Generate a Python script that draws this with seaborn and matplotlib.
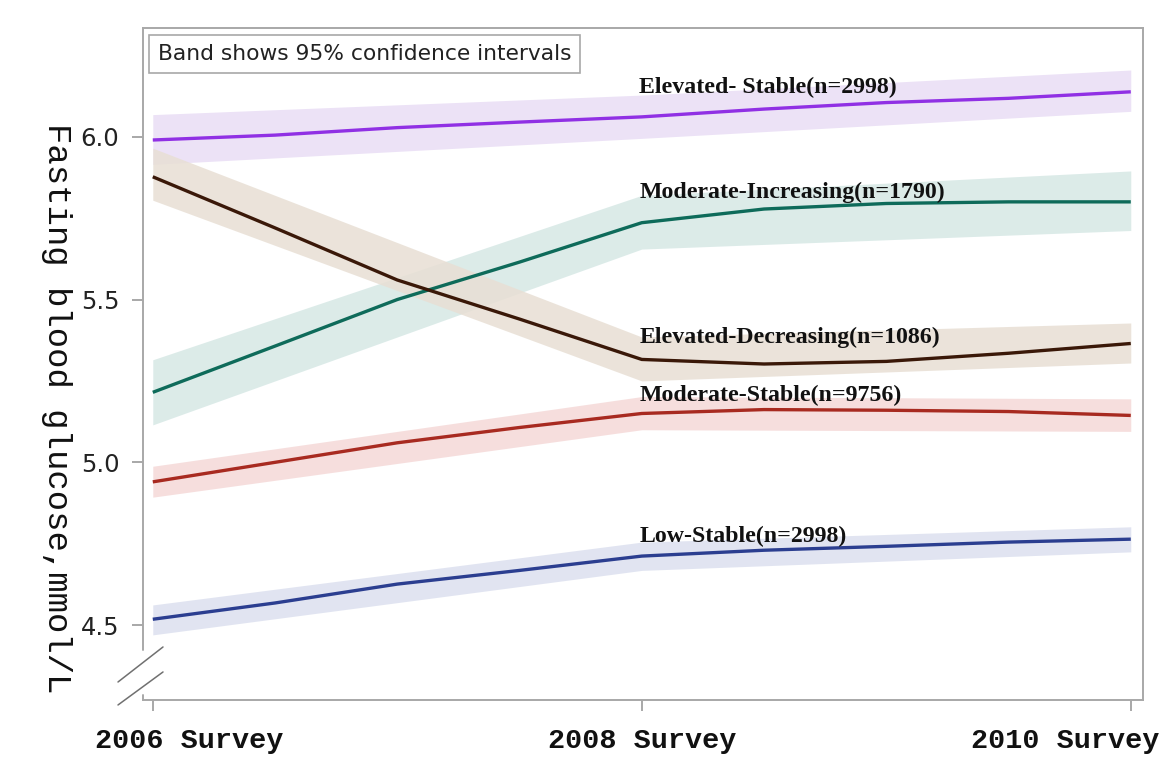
import matplotlib
matplotlib.use("Agg")
import matplotlib.pyplot as plt
import matplotlib.transforms as mtransforms
import seaborn as sns
import pandas as pd

# ---------------- data ----------------
years_fine = [2006.0, 2006.5, 2007.0, 2007.5, 2008.0, 2008.5, 2009.0, 2009.5, 2010.0]
survey_years = [2006, 2008, 2010]
survey_labels = ["2006 Survey", "2008 Survey", "2010 Survey"]

groups = ["Elevated- Stable(n=2998)", "Moderate-Increasing(n=1790)",
          "Elevated-Decreasing(n=1086)", "Moderate-Stable(n=9756)", "Low-Stable(n=2998)"]

elev_stable = [5.99, 6.005, 6.028, 6.045, 6.061, 6.085, 6.105, 6.118, 6.138]
mod_incr = [5.215, 5.357, 5.50, 5.615, 5.736, 5.778, 5.795, 5.80, 5.80]
elev_decr = [5.877, 5.72, 5.56, 5.44, 5.316, 5.302, 5.31, 5.335, 5.365]
mod_stable = [4.94, 5.00, 5.06, 5.107, 5.150, 5.162, 5.160, 5.156, 5.144]
low_stable = [4.518, 4.568, 4.626, 4.668, 4.712, 4.730, 4.742, 4.755, 4.764]

# 95% CI bands at each survey (lower, upper)
elev_stable_lo = [5.915, 5.995, 6.078]
elev_stable_hi = [6.068, 6.128, 6.205]
mod_incr_lo = [5.115, 5.655, 5.712]
mod_incr_hi = [5.315, 5.820, 5.895]
elev_decr_lo = [5.805, 5.250, 5.305]
elev_decr_hi = [5.965, 5.385, 5.428]
mod_stable_lo = [4.893, 5.100, 5.095]
mod_stable_hi = [4.988, 5.202, 5.195]
low_stable_lo = [4.470, 4.668, 4.725]
low_stable_hi = [4.562, 4.755, 4.802]

label_y = [6.150, 5.828, 5.383, 5.205, 4.773]

line_colors = ["#9030E4", "#0E6B5A", "#3A1808", "#A82A20", "#2B3E90"]
band_colors = ["#E9DDF5", "#D6E8E5", "#E8DFD4", "#F5D9D8", "#DCE0EF"]

# ---------------- build frame ----------------
series = [elev_stable, mod_incr, elev_decr, mod_stable, low_stable]
los = [elev_stable_lo, mod_incr_lo, elev_decr_lo, mod_stable_lo, low_stable_lo]
his = [elev_stable_hi, mod_incr_hi, elev_decr_hi, mod_stable_hi, low_stable_hi]
rows = []
for g, vals in zip(groups, series):
    for x, v in zip(years_fine, vals):
        rows.append({"year": x, "glucose": v, "group": g})
df = pd.DataFrame(rows)

sns.set_theme(style="white")
plt.rcParams["font.family"] = ["DejaVu Sans"]

fig = plt.figure(figsize=(11.75, 7.7), dpi=100)
ax = fig.add_axes([143 / 1175, 1 - 700 / 770, 1000 / 1175, 672 / 770])

for lo, hi, bc in zip(los, his, band_colors):
    ax.fill_between(survey_years, lo, hi, color=bc, alpha=0.85, linewidth=0, zorder=1)

sns.lineplot(data=df, x="year", y="glucose", hue="group", hue_order=groups,
             palette=line_colors, linewidth=2.4, errorbar=None, legend=False,
             ax=ax, zorder=3)
for ln in ax.get_lines():
    ln.set_solid_joinstyle("round")
    ln.set_solid_capstyle("butt")

for g, yv in zip(groups, label_y):
    ax.text(2007.99, yv, g, ha="left", va="center", fontsize=17.2,
            fontweight="bold", family="Liberation Serif", color="#111111", zorder=5)

ax.set_xlim(2005.96, 2010.05)
ax.set_ylim(4.27, 6.334)
ax.set_xticks(survey_years)
ax.set_xticklabels(survey_labels, family="Liberation Mono", fontweight="bold",
                   fontsize=20.5, color="#111111")
ax.set_yticks([4.5, 5.0, 5.5, 6.0])
ax.set_yticklabels(["4.5", "5.0", "5.5", "6.0"], fontsize=17.5, color="#222222")
ax.tick_params(axis="both", direction="out", length=8, width=1.2, color="#9A9A9A",
               bottom=True, left=True)
ax.tick_params(axis="x", pad=12)
ax.tick_params(axis="y", pad=9)

# shift first/last tick labels like the reference
shifts = [36, 0, -66]
for lab, dx in zip(ax.get_xticklabels(), shifts):
    lab.set_transform(lab.get_transform() +
                      mtransforms.ScaledTranslation(dx / 100, 0, fig.dpi_scale_trans))

ax.set_xlabel("")
ax.set_ylabel("Fasting blood glucose,mmol/L", family="Liberation Mono",
              fontsize=24.5, rotation=270, color="#111111", va="center", ha="center")
ax.yaxis.set_label_coords(-0.087, 0.4345)

for side in ["top", "right", "bottom"]:
    ax.spines[side].set_color("#A8A8A8")
    ax.spines[side].set_linewidth(1.4)
ax.spines["left"].set_visible(False)
spine_kw = dict(transform=ax.transAxes, color="#A8A8A8", lw=1.4, clip_on=False, zorder=6)
ax.plot([0, 0], [0.0744, 1.0], **spine_kw)
ax.plot([0, 0], [0.0, 0.0074], **spine_kw)
brk_kw = dict(transform=ax.transAxes, color="#707070", lw=1.1, clip_on=False, zorder=6)
ax.plot([-0.025, 0.02], [0.0268, 0.0789], **brk_kw)
ax.plot([-0.025, 0.02], [-0.0074, 0.0417], **brk_kw)

# note box
ax.text(0.0145, 0.9615, "Band shows 95% confidence intervals", transform=ax.transAxes,
        ha="left", va="center", fontsize=15.7, color="#222222", zorder=7,
        bbox=dict(boxstyle="square,pad=0.4", facecolor="white",
                  edgecolor="#A8A8A8", linewidth=1.2))

fig.savefig("out.png", dpi=100, facecolor="white")
